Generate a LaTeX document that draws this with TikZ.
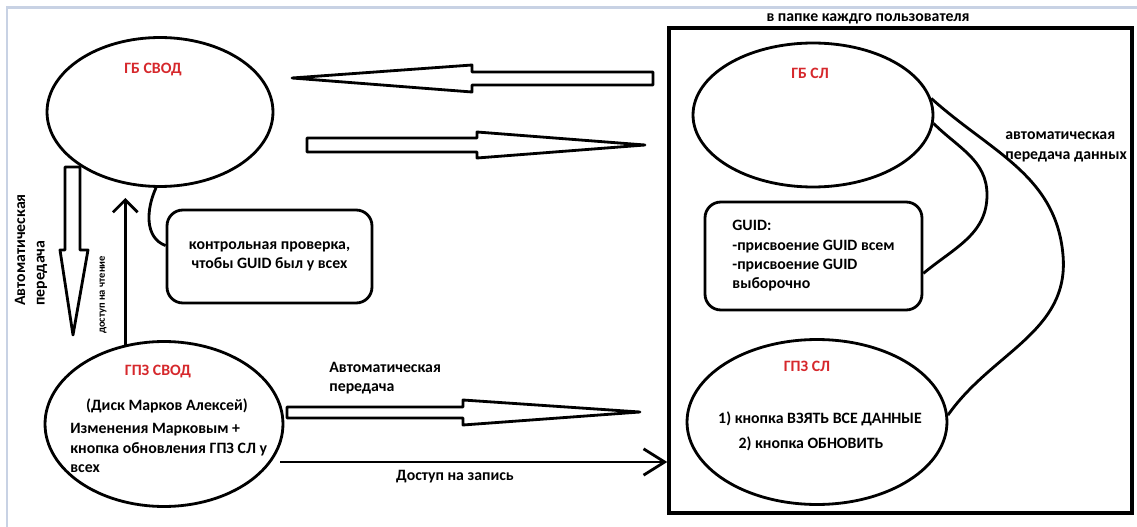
\documentclass[tikz,border=0pt]{standalone}
\usepackage{fontspec}
\setmainfont{Carlito}
\usetikzlibrary{shapes.geometric,arrows.meta}
\definecolor{lblred}{RGB}{214,40,44}
\definecolor{framebl}{RGB}{200,210,228}
\tikzset{
  every node/.style={font=\bfseries\fontsize{9}{11}\selectfont, inner sep=0pt},
  bubble/.style={draw, ellipse, line width=1.6pt},
  ttl/.style={text=lblred},
  card/.style={draw, rounded corners=9pt, line width=1.6pt},
  link/.style={line width=1.6pt},
  fat/.style={draw, line width=1.6pt, line join=round},
}

\begin{document}
\begin{tikzpicture}[x=0.02cm,y=-0.02cm]
\useasboundingbox (0,0) rectangle (1137,527);
\fill[white] (0,0) rectangle (1137,527);
\draw[framebl, line width=1.2pt] (7,527) -- (7,7.5) -- (1137,7.5);

% left side
\node[bubble, minimum width=4.52cm, minimum height=2.98cm] (gbsvod) at (160,112) {};
\node[ttl] (gbsvodt) at (153,70) {ГБ СВОД};
\node[bubble, minimum width=4.76cm, minimum height=3.3cm] (gpzsvod) at (164,424) {};
\node[ttl] (gpzsvodt) at (158,372) {ГПЗ СВОД};
\node (disk) at (167,406) {(Диск Марков Алексей)};
\node[align=left, anchor=west] (chg) at (70,448) {Изменения Марковым +\\кнопка обновления ГПЗ СЛ у\\всех};
\node[card, minimum width=4.1cm, minimum height=1.86cm, align=center] (ctrl) at (269.5,256.5) {контрольная проверка,\\чтобы GUID был у всех};
\draw[link] (gbsvod.-93) to[out=-115,in=160] (ctrl.174);

\draw[fat] (65,167) -- (65,250) -- (60,250) -- (73,335) -- (88,250) -- (80,250) -- (80,167) -- cycle;
\node[rotate=90, align=left] (autodown) at (31,250) {Автоматическая\\передача};
\coordinate (rd) at (125,198);
\draw[link, -{Straight Barb[length=7pt,width=14pt]}] (gpzsvod.116) -- (gpzsvod.116 |- rd);
\node[rotate=90, font=\bfseries\fontsize{6}{7}\selectfont] (readacc) at (103,295) {доступ на чтение};

% user folder
\node[draw, line width=2pt, minimum width=9.26cm, minimum height=9.7cm] (usr) at (900.5,270.5) {};
\node (usrt) at (868,19) {в папке каждго пользователя};
\node[bubble, minimum width=4.8cm, minimum height=2.88cm] (gbsl) at (813,115) {};
\node[ttl] (gbslt) at (810,73) {ГБ СЛ};
\node[card, minimum width=4.34cm, minimum height=2.16cm, align=left] (guid) at (813.5,256) {GUID:\\-присвоение GUID всем\\-присвоение GUID\\выборочно};
\node[bubble, minimum width=5.2cm, minimum height=3.3cm] (gpzsl) at (817,422) {};
\node[ttl] (gpzslt) at (807,366) {ГПЗ СЛ};
\node (btn1) at (820,419) {1) кнопка ВЗЯТЬ ВСЕ ДАННЫЕ};
\node (btn2) at (811,444) {2) кнопка ОБНОВИТЬ};
\node[align=left, anchor=west] (autodata) at (1005,147) {автоматическая\\передача данных};
\draw[link] (gbsl.8) to[out=-42,in=95] (1063,255) to[out=-85,in=55] (gpzsl.3);
\draw[link] (gbsl.-4) to[out=-45,in=90] (987,195) to[out=-90,in=40] (guid.-9);

% block arrows between
\draw[fat] (653,72) -- (472,72) -- (472,65) -- (292,78) -- (472,92) -- (472,85) -- (653,85) -- cycle;
\draw[fat] (307,138) -- (477,138) -- (477,132) -- (645,145) -- (477,158) -- (477,152) -- (307,152) -- cycle;
\draw[fat] (287,407) -- (463,407) -- (463,400) -- (640,412) -- (463,425) -- (463,418) -- (287,418) -- cycle;
\node[align=left, anchor=west] (autoright) at (329,378) {Автоматическая\\передача};
\coordinate (wr) at (280,462);
\draw[link, -{Straight Barb[length=12pt,width=15pt]}] (wr) -- (wr -| usr.west);
\node (wracc) at (455,477) {Доступ на запись};
\end{tikzpicture}
\end{document}
